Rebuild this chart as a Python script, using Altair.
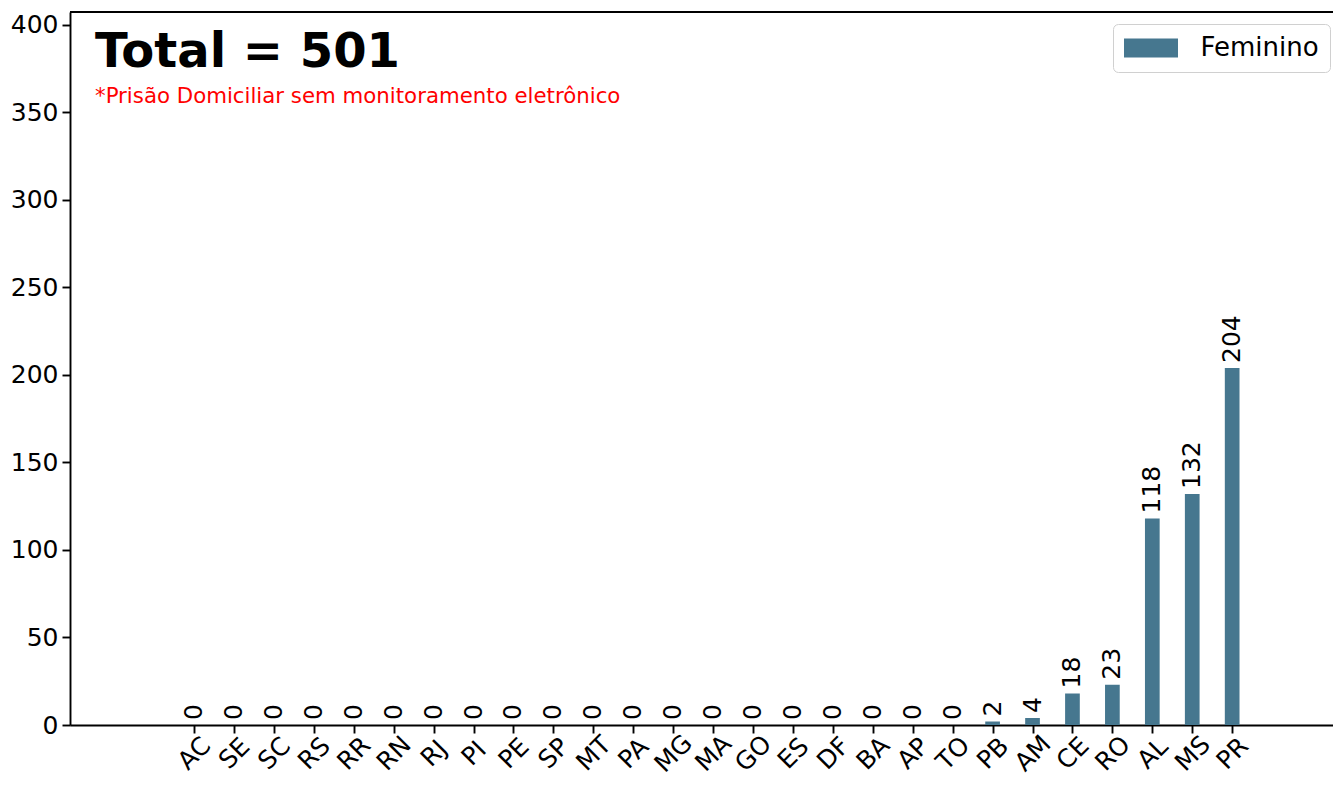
import json
import altair as alt
import pandas as pd

states = ["AC", "SE", "SC", "RS", "RR", "RN", "RJ", "PI", "PE", "SP", "MT", "PA", "MG", "MA",
          "GO", "ES", "DF", "BA", "AP", "TO", "PB", "AM", "CE", "RO", "AL", "MS", "PR"]
values = [0, 0, 0, 0, 0, 0, 0, 0, 0, 0, 0, 0, 0, 0,
          0, 0, 0, 0, 0, 0, 2, 4, 18, 23, 118, 132, 204]
series_name = "Feminino"
title_text = "Total = 501"
subtitle_text = "*Prisão Domiciliar sem monitoramento eletrônico"
y_ticks = [0, 50, 100, 150, 200, 250, 300, 350, 400]

BAR_COLOR = "#46778f"
FONT = "DejaVu Sans"
TICK_FS = 25

df = pd.DataFrame({"idx": list(range(len(states))), "state": states,
                   "value": values, "serie": [series_name] * len(states)})

label_expr = json.dumps(states) + "[datum.value]"

x_enc = alt.X("idx:Q",
              scale=alt.Scale(domain=[-2.98, 28.4], nice=False, zero=False),
              axis=alt.Axis(values=list(range(len(states))), labelExpr=label_expr,
                            labelAngle=-45, labelAlign="center", labelBaseline="middle",
                            labelPadding=20, labelFontSize=TICK_FS, labelFont=FONT,
                            labelColor="black", tickSize=8, tickWidth=1.9, tickColor="black",
                            domainColor="black", domainWidth=1.9, grid=False, title=None,
                            labelOverlap=False))
y_enc = alt.Y("value:Q",
              scale=alt.Scale(domain=[0, 407.4], nice=False),
              axis=alt.Axis(values=y_ticks, labelFontSize=TICK_FS, labelFont=FONT,
                            labelColor="black", labelPadding=4, tickSize=8, tickWidth=1.9,
                            tickColor="black", domainColor="black", domainWidth=1.9,
                            grid=False, title=None))

base = alt.Chart(df)

bars = base.mark_bar(size=14.7).encode(
    x=x_enc,
    y=y_enc,
    color=alt.Color("serie:N", title=None,
                    scale=alt.Scale(domain=[series_name], range=[BAR_COLOR]),
                    legend=alt.Legend(orient="none", legendX=1043, legendY=12, padding=11,
                                      strokeColor="#d0d0d0", cornerRadius=5,
                                      fillColor="white",
                                      symbolType="M-2.842,-1H2.842V1H-2.842Z", symbolSize=361,
                                      symbolOffset=14,
                                      symbolStrokeWidth=0, symbolOpacity=1,
                                      labelFontSize=26, labelFont=FONT, labelColor="black",
                                      labelOffset=36.5)),
)

labels = base.mark_text(angle=270, align="left", baseline="middle", dx=5,
                        fontSize=TICK_FS, font=FONT, color="black").encode(
    x="idx:Q", y="value:Q", text="value:Q")

top_spine = alt.Chart(df).mark_rule(color="black", strokeWidth=1.9).encode(y=alt.value(0))

title = alt.Chart(pd.DataFrame({"t": [title_text]})).mark_text(
    align="left", baseline="alphabetic", fontSize=48, fontWeight="bold", font=FONT,
    color="black").encode(x=alt.value(25), y=alt.value(55), text="t:N")

subtitle = alt.Chart(pd.DataFrame({"t": [subtitle_text]})).mark_text(
    align="left", baseline="alphabetic", fontSize=21.3, font=FONT,
    color="red").encode(x=alt.value(25), y=alt.value(91), text="t:N")

chart = alt.layer(bars, labels, top_spine, title, subtitle).properties(
    width=1263, height=713,
    autosize=alt.AutoSizeParams(type="none"),
    padding={"left": 62, "top": 4, "right": 0, "bottom": 52},
).configure_view(stroke=None).configure(background="white")

chart.save("out.html", embed_options={"renderer": "svg", "actions": False})
